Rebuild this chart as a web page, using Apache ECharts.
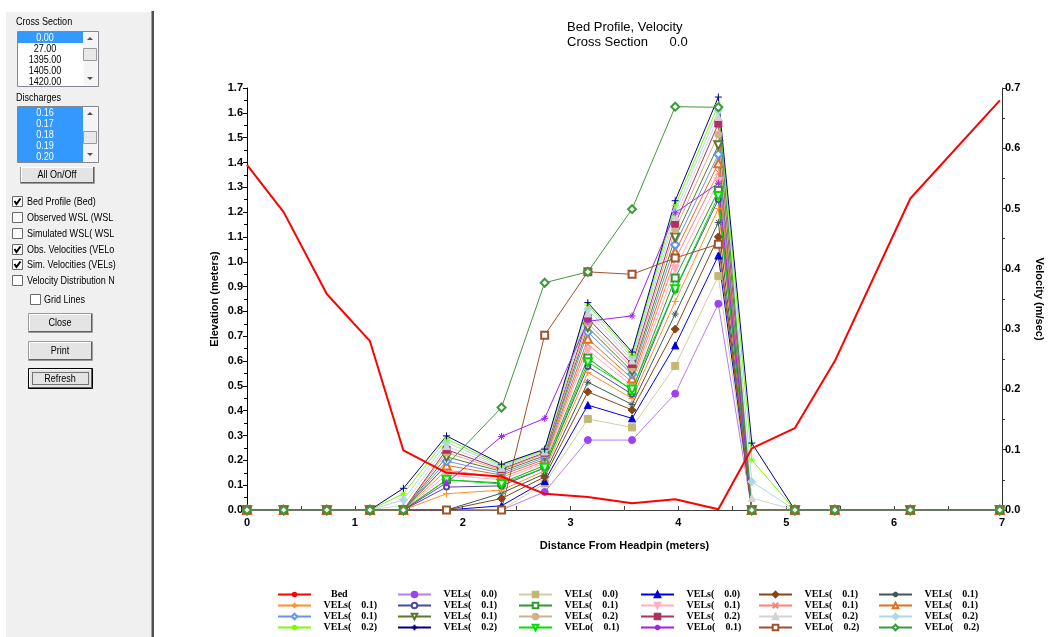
<!DOCTYPE html>
<html><head><meta charset="utf-8">
<script src="https://cdn.jsdelivr.net/npm/echarts/dist/echarts.min.js"></script>
<style>html,body{margin:0;padding:0;background:#fff;overflow:hidden}#c{width:1048px;height:637px}</style>
</head><body><div id="c"></div>
<script>
// ---------- DATA ----------
const stations = [0, 0.34, 0.74, 1.14, 1.45, 1.85, 2.36, 2.76, 3.16, 3.57, 3.97, 4.37, 4.68, 5.08, 5.45, 6.15, 6.98];
const bedElevation = [1.39, 1.20, 0.87, 0.68, 0.24, 0.15, 0.135, 0.065, 0.052, 0.027, 0.043, 0.003, 0.248, 0.33, 0.60, 1.255, 1.65];

const velsPurpleCircle = [0,0,0,0, 0,     0,     0,     0.030, 0.116, 0.116, 0.193, 0.342, 0,     0,0,0,0];
const velsKhakiSquare  = [0,0,0,0, 0,     0,     0,     0.044, 0.151, 0.137, 0.239, 0.388, 0,     0,0,0,0];
const velsBlueTri      = [0,0,0,0, 0,     0,     0.007, 0.048, 0.174, 0.152, 0.273, 0.422, 0,     0,0,0,0];
const velsBrownDiamond = [0,0,0,0, 0,     0,     0.019, 0.055, 0.196, 0.166, 0.300, 0.453, 0,     0,0,0,0];
const velsSlateStar    = [0,0,0,0, 0,     0,     0.028, 0.060, 0.212, 0.175, 0.325, 0.477, 0,     0,0,0,0];
const velsOrangePlus   = [0,0,0,0, 0,     0.027, 0.033, 0.065, 0.228, 0.185, 0.346, 0.500, 0,     0,0,0,0];
const velsSlateCircle  = [0,0,0,0, 0,     0.038, 0.040, 0.070, 0.238, 0.192, 0.365, 0.515, 0,     0,0,0,0];
const velsGreenSquare  = [0,0,0,0, 0,     0.050, 0.045, 0.074, 0.252, 0.198, 0.385, 0.530, 0,     0,0,0,0];
const velsPinkTri      = [0,0,0,0, 0,     0.058, 0.050, 0.078, 0.265, 0.206, 0.400, 0.545, 0,     0,0,0,0];
const velsSalmonX      = [0,0,0,0, 0,     0.066, 0.054, 0.081, 0.275, 0.212, 0.415, 0.560, 0,     0,0,0,0];
const velsOrangeTri    = [0,0,0,0, 0,     0.074, 0.058, 0.084, 0.284, 0.218, 0.428, 0.575, 0,     0,0,0,0];
const velsBlueDiamond  = [0,0,0,0, 0,     0.081, 0.061, 0.087, 0.295, 0.225, 0.440, 0.590, 0,     0,0,0,0];
const velsOliveTri     = [0,0,0,0, 0,     0.088, 0.064, 0.090, 0.303, 0.230, 0.452, 0.605, 0,     0,0,0,0];
const velsTanCircle    = [0,0,0,0, 0,     0.095, 0.066, 0.093, 0.310, 0.236, 0.465, 0.623, 0,     0,0,0,0];
const velsMaroonSquare = [0,0,0,0, 0,     0.100, 0.068, 0.095, 0.318, 0.242, 0.475, 0.641, 0,     0,0,0,0];
const velsGrayTri      = [0,0,0,0, 0.008, 0.106, 0.070, 0.097, 0.326, 0.248, 0.486, 0.652, 0.020, 0,0,0,0];
const velsLightBlue    = [0,0,0,0, 0.017, 0.112, 0.072, 0.099, 0.333, 0.253, 0.495, 0.662, 0.047, 0,0,0,0];
const velsLimeStar     = [0,0,0,0, 0.027, 0.118, 0.074, 0.100, 0.340, 0.258, 0.505, 0.672, 0.083, 0,0,0,0];
const velsNavyPlus     = [0,0,0,0, 0.036, 0.123, 0.076, 0.101, 0.344, 0.262, 0.513, 0.685, 0.111, 0,0,0,0];
const veloGreenTri     = [0,0,0,0, 0,     0.050, 0.043, 0.070, 0.245, 0.200, 0.366, 0.521, 0,     0,0,0,0];
const veloPurpleStar   = [0,0,0,0, 0,     0.045, 0.122, 0.152, 0.313, 0.322, 0.493, 0.542, 0,     0,0,0,0];
const veloBrownSquare  = [0,0,0,0, 0,     0,     0,     0.290, 0.395, 0.391, 0.418, 0.441, 0,     0,0,0,0];
const veloGreenDiamond = [0,0,0,0, 0,     null,  0.170, 0.377, 0.395, 0.499, 0.669, 0.668, 0,     0,0,0,0];

const xTicks = [0,1,2,3,4,5,6,7];
const elevTicks = ['0.0','0.1','0.2','0.3','0.4','0.5','0.6','0.7','0.8','0.9','1.0','1.1','1.2','1.3','1.4','1.5','1.6','1.7'];
const velTicks = ['0.0','0.1','0.2','0.3','0.4','0.5','0.6','0.7'];

const crossSections = ['0.00','27.00','1395.00','1405.00','1420.00'];
const discharges = ['0.16','0.17','0.18','0.19','0.20'];

// ---------- STYLES ----------
const P_PLUS = 'path://M5,0L5,10M0,5L10,5';
const P_X = 'path://M1,1L9,9M9,1L1,9';
const P_AST = 'path://M5,0L5,10M0,5L10,5M1.6,1.6L8.4,8.4M8.4,1.6L1.6,8.4';

const SP = '\u00a0\u00a0\u00a0\u00a0';
const L00 = 'VELs(' + SP + '0.0)', L01 = 'VELs(' + SP + '0.1)', L02 = 'VELs(' + SP + '0.2)';
const O01 = 'VELo(' + SP + '0.1)', O02 = 'VELo(' + SP + '0.2)';

// legend order row-major (6 columns x 4 rows); first is Bed
const velDefs = [
  [L00, velsPurpleCircle, {c:'#a040f0', line:'#b77cf0', s:'circle', size:7}],
  [L00, velsKhakiSquare,  {c:'#c2b874', line:'#d4cda0', s:'rect', size:7}],
  [L00, velsBlueTri,      {c:'#0000e0', s:'triangle', size:7}],
  [L01, velsBrownDiamond, {c:'#8b4513', s:'diamond', size:8}],
  [L01, velsSlateStar,    {c:'#3d5959', s:P_AST, size:7}],
  [L01, velsOrangePlus,   {c:'#ff9020', s:P_PLUS, size:7}],
  [L01, velsSlateCircle,  {c:'#4b4b99', s:'emptyCircle', size:5}],
  [L01, velsGreenSquare,  {c:'#2e9a2e', s:'emptyRect', size:7}],
  [L01, velsPinkTri,      {c:'#ffb0c0', s:'triangle', rot:180, size:8}],
  [L01, velsSalmonX,      {c:'#ff8070', s:P_X, size:6}],
  [L01, velsOrangeTri,    {c:'#e07020', s:'emptyTriangle', size:8}],
  [L01, velsBlueDiamond,  {c:'#6495ed', s:'emptyDiamond', size:8}],
  [L01, velsOliveTri,     {c:'#5a7a2a', s:'emptyTriangle', rot:180, size:8}],
  [L02, velsTanCircle,    {c:'#d2b08c', s:'circle', size:7}],
  [L02, velsMaroonSquare, {c:'#b03060', s:'rect', size:7}],
  [L02, velsGrayTri,      {c:'#d3d3d3', s:'triangle', size:7}],
  [L02, velsLightBlue,    {c:'#add8e6', s:'diamond', size:8}],
  [L02, velsLimeStar,     {c:'#7cfc00', s:P_AST, size:7}],
  [L02, velsNavyPlus,     {c:'#000080', s:P_PLUS, size:7}],
  [O01, veloGreenTri,     {c:'#00e000', s:'emptyTriangle', rot:180, size:8}],
  [O01, veloPurpleStar,   {c:'#a020f0', s:P_AST, size:7}],
  [O02, veloBrownSquare,  {c:'#a0522d', s:'emptyRect', size:7}],
  [O02, veloGreenDiamond, {c:'#3c9a3c', s:'emptyDiamond', size:8}]
];

const series = [];
const names = [];
const bedName = '\u00a0\u00a0\u00a0Bed#0';
names.push(bedName);
velDefs.forEach((d, i) => {
  const [label, arr, st] = d;
  const nm = label + '#' + (i + 1);
  names.push(nm);
  series.push({
    type: 'line', name: nm, yAxisIndex: 1, z: 2,
    data: stations.map((x, k) => [x, arr[k]]),
    connectNulls: true,
    symbol: st.s, symbolSize: st.size, symbolRotate: st.rot || 0, showAllSymbol: true,
    lineStyle: { color: st.line || st.c, width: 1 },
    itemStyle: { color: st.c, borderColor: st.c, borderWidth: 1 },
    emphasis: { disabled: true }, silent: true, animation: false
  });
});
series.push({
  type: 'line', name: bedName, yAxisIndex: 0, z: 5,
  data: stations.map((x, k) => [x, bedElevation[k]]),
  symbol: 'none', lineStyle: { color: '#ff0000', width: 2 }, itemStyle: { color: '#ff0000' },
  emphasis: { disabled: true }, silent: true, animation: false
});

const legendLeft = [277, 397, 518, 640, 758, 878];
const legends = legendLeft.map((lx, c) => ({
  orient: 'vertical', left: lx, top: 589, padding: 0, itemGap: 0,
  itemWidth: 33, itemHeight: 7, selectedMode: false,
  data: [0,1,2,3].map(r => names[r * 6 + c]),
  formatter: n => '\u00a0\u00a0\u00a0' + n.split('#')[0],
  textStyle: { fontFamily: '"Liberation Serif","Times New Roman",serif', fontWeight: 'bold', fontSize: 10, color: '#000', lineHeight: 11 }
}));

// ---------- LEFT PANEL (graphics) ----------
const PF = '11px "Liberation Sans",Arial,sans-serif';
const G = [];
function rect(x, y, w, h, fill, stroke, lw, z, dash) {
  G.push({ type: 'rect', silent: true, z: z || 1, shape: { x, y, width: w, height: h },
    style: { fill: fill || 'none', stroke: stroke || 'none', lineWidth: lw || 1, lineDash: dash || null } });
}
function ln(x1, y1, x2, y2, stroke, lw, z) {
  G.push({ type: 'line', silent: true, z: z || 3, shape: { x1, y1, x2, y2 }, style: { stroke, lineWidth: lw || 1 } });
}
function tx(x, y, s, opt) {
  opt = opt || {};
  G.push({ type: 'text', silent: true, z: opt.z || 5, x, y, scaleX: 0.82, scaleY: 1,
    style: { text: s, font: opt.font || PF, fill: opt.fill || '#000',
      textAlign: opt.align || 'left', textVerticalAlign: 'middle', align: opt.align || 'left', verticalAlign: 'middle' } });
}
function poly(points, fill, z) { G.push({ type: 'polygon', silent: true, z: z || 8, shape: { points }, style: { fill } }); }

// panel background
rect(5, 11, 147, 626, '#f0f0f0', 'none', 1, 0);
ln(5.5, 11, 5.5, 637, '#ffffff', 1, 1);
ln(5, 11.5, 152, 11.5, '#ffffff', 1, 1);
ln(151.5, 11, 151.5, 637, '#a0a0a0', 1, 1);
ln(153, 11, 153, 637, '#505050', 2, 1);

function listbox(y, h, items, selAll, thumbY) {
  rect(17.5, y + 0.5, 81, h, '#ffffff', 'none', 1, 2);
  if (selAll) rect(18, y + 1, 65, h - 1, '#3399ff', 'none', 1, 3);
  else rect(18, y + 1, 65, 11, '#3399ff', 'none', 1, 3);
  items.forEach((s, i) => tx(45, y + 7 + i * 11, s, { align: 'center', fill: (selAll || i === 0) ? '#ffffff' : '#000000' }));
  // mask overflow below the box
  rect(14, y + h + 1, 88, 4, '#f0f0f0', 'none', 1, 6);
  rect(17.5, y + 0.5, 81, h, 'none', '#828790', 1, 7);
  // scrollbar
  rect(83.5, y + 1.5, 14, h - 2, '#f4f4f4', 'none', 1, 6);
  poly([[87, y + 9], [93, y + 9], [90, y + 6]], '#505050');
  poly([[87, y + h - 9], [93, y + h - 9], [90, y + h - 6]], '#505050');
  rect(83.5, thumbY + 0.5, 13, 12, '#e8e8e8', '#9a9a9a', 1, 7);
}
tx(16, 22, 'Cross Section', { z: 10 });
listbox(31, 55, crossSections, false, 48);
tx(16, 98, 'Discharges', { z: 10 });
listbox(106, 56, discharges, true, 131);

function button(x, y, w, h, label, def) {
  rect(x + 0.5, y + 0.5, w, h, '#e4e4e4', def ? '#000000' : '#9a9a9a', 1, 2);
  ln(x + 1, y + h - 0.5, x + w, y + h - 0.5, '#606060', 1, 3);
  ln(x + w - 0.5, y + 1, x + w - 0.5, y + h, '#606060', 1, 3);
  ln(x + 1.5, y + 1.5, x + w - 1, y + 1.5, '#ffffff', 1, 3);
  ln(x + 1.5, y + 1.5, x + 1.5, y + h - 1, '#ffffff', 1, 3);
  if (def) rect(x + 4.5, y + 4.5, w - 8, h - 8, 'none', '#000000', 1, 4, [1, 1]);
  tx(x + w / 2, y + h / 2 + 0.5, label, { align: 'center', z: 10 });
}
button(20, 166, 74, 17, 'All On/Off');

function check(x, yc, label, checked, textX) {
  rect(x + 0.5, yc - 5.5, 10, 10, '#ffffff', '#6a6a6a', 1, 2);
  if (checked) G.push({ type: 'polyline', silent: true, z: 4,
    shape: { points: [[x + 2.5, yc - 1], [x + 4.5, yc + 2], [x + 8.5, yc - 3.5]] },
    style: { stroke: '#000', lineWidth: 2, fill: 'none' } });
  tx(textX, yc, label);
}
check(12, 202, 'Bed Profile (Bed)', true, 27);
check(12, 218, 'Observed WSL (WSL', false, 27);
check(12, 234, 'Simulated WSL( WSL', false, 27);
check(12, 250, 'Obs. Velocities (VELo', true, 27);
check(12, 265, 'Sim. Velocities (VELs)', true, 27);
check(12, 281, 'Velocity Distribution N', false, 27);
rect(116, 194, 34, 95, '#f0f0f0', 'none', 1, 9);
check(30, 300, 'Grid Lines', false, 44);

button(28, 313, 64, 19, 'Close');
button(28, 341, 64, 19, 'Print');
button(28, 368, 64, 20, 'Refresh', true);

// ---------- CHART ----------
const AF = '"Liberation Sans",Arial,sans-serif';
const chart = echarts.init(document.getElementById('c'), null, { renderer: 'canvas' });
chart.setOption({
  animation: false,
  backgroundColor: '#ffffff',
  title: {
    text: 'Bed Profile, Velocity\nCross Section\u00a0\u00a0\u00a0\u00a0\u00a0\u00a00.0',
    left: 567, top: 20, padding: 0,
    textStyle: { fontFamily: AF, fontSize: 13, fontWeight: 'normal', color: '#000', lineHeight: 15 }
  },
  grid: { left: 247, right: 46, top: 88, bottom: 127, containLabel: false, outerBoundsMode: 'none' },
  xAxis: {
    type: 'value', min: xTicks[0], max: xTicks[xTicks.length - 1], interval: 1,
    name: 'Distance From Headpin (meters)', nameLocation: 'middle', nameGap: 30,
    nameTextStyle: { fontFamily: AF, fontSize: 11, fontWeight: 'bold', color: '#000' },
    axisLine: { lineStyle: { color: '#404040', width: 1 } },
    axisTick: { inside: true, length: 4, lineStyle: { color: '#404040' } },
    minorTick: { show: true, splitNumber: 2, length: 4, lineStyle: { color: '#404040' } },
    axisLabel: { fontFamily: AF, fontSize: 11, fontWeight: 'bold', color: '#000', margin: 7,
      formatter: v => String(xTicks[Math.round(v)]) },
    splitLine: { show: false }
  },
  yAxis: [{
    type: 'value', min: 0, max: 1.7, interval: 0.1, position: 'left',
    name: 'Elevation (meters)', nameLocation: 'middle', nameGap: 27, nameRotate: 90, nameMoveOverlap: false,
    nameTextStyle: { fontFamily: AF, fontSize: 11, fontWeight: 'bold', color: '#000' },
    axisLine: { show: true, lineStyle: { color: '#000', width: 1 } },
    axisTick: { show: true, length: 4, lineStyle: { color: '#000' } },
    minorTick: { show: true, splitNumber: 2, length: 3, lineStyle: { color: '#000' } },
    axisLabel: { fontFamily: AF, fontSize: 11, fontWeight: 'bold', color: '#000', margin: 4,
      formatter: v => elevTicks[Math.round(v * 10)] },
    splitLine: { show: false }
  }, {
    type: 'value', min: 0, max: 0.7, interval: 0.1, position: 'right',
    name: 'Velocity (m/sec)', nameLocation: 'middle', nameGap: 32, nameRotate: -90, nameMoveOverlap: false,
    nameTextStyle: { fontFamily: AF, fontSize: 11, fontWeight: 'bold', color: '#000' },
    axisLine: { show: true, lineStyle: { color: '#303030', width: 1 } },
    axisTick: { show: true, length: 4, lineStyle: { color: '#303030' } },
    minorTick: { show: true, splitNumber: 2, length: 3, lineStyle: { color: '#303030' } },
    axisLabel: { fontFamily: AF, fontSize: 11, fontWeight: 'bold', color: '#000', margin: 3,
      formatter: v => velTicks[Math.round(v * 10)] },
    splitLine: { show: false }
  }],
  legend: legends,
  series: series,
  graphic: { elements: G }
});
</script></body></html>
